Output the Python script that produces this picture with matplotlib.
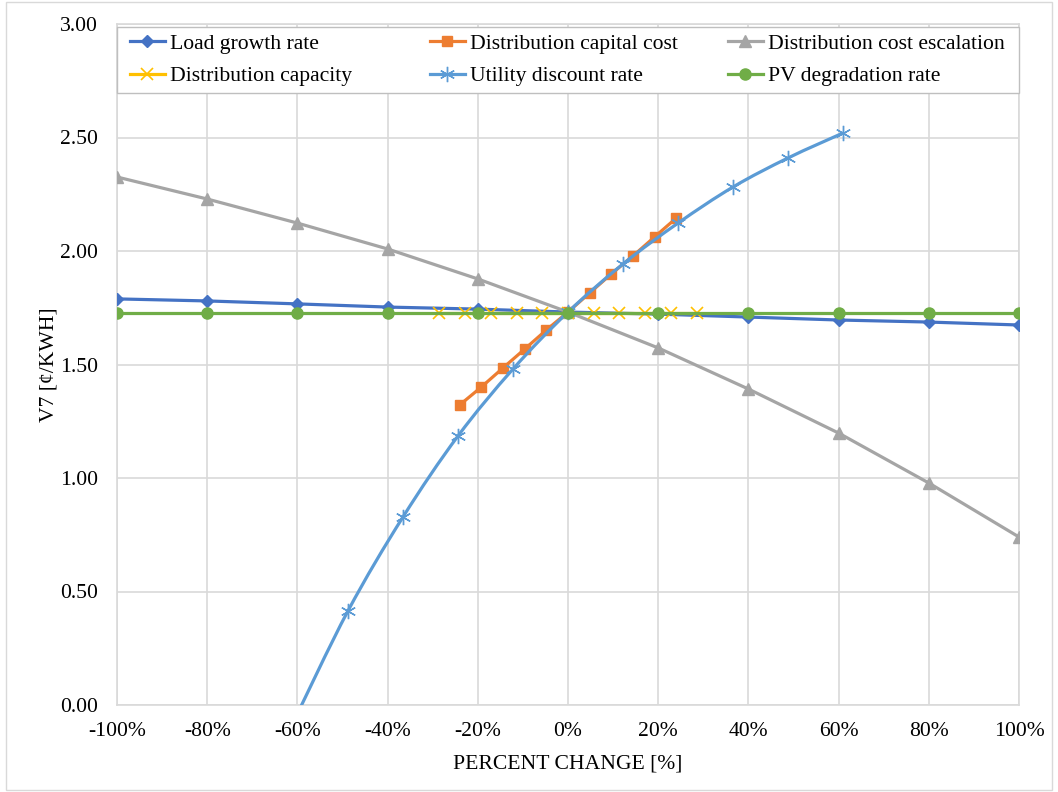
import numpy as np
import matplotlib.pyplot as plt
from matplotlib.path import Path
from matplotlib.patches import PathPatch, Rectangle
from matplotlib.lines import Line2D
from matplotlib.legend import Legend

plt.rcParams['font.family'] = ['Liberation Serif', 'DejaVu Serif']

# data (x in percent change, y in cents/kWh)
pct_20 = [-100, -80, -60, -40, -20, 0, 20, 40, 60, 80, 100]
load_growth = [1.789, 1.780, 1.767, 1.753, 1.744, 1.731, 1.722, 1.709, 1.696, 1.687, 1.674]
cost_escalation = [2.326, 2.229, 2.123, 2.009, 1.877, 1.731, 1.573, 1.392, 1.198, 0.978, 0.740]
pv_degradation = [1.728, 1.728, 1.728, 1.728, 1.728, 1.728, 1.728, 1.728, 1.728, 1.728, 1.728]

pct_capital = [-24, -19.2, -14.4, -9.6, -4.8, 0, 4.8, 9.6, 14.4, 19.2, 24]
capital_cost = [1.322, 1.401, 1.485, 1.568, 1.652, 1.731, 1.815, 1.899, 1.978, 2.062, 2.145]

pct_capacity = [-28.6, -22.9, -17.1, -11.4, -5.7, 0, 5.7, 11.4, 17.1, 22.9, 28.6]
capacity = [1.729, 1.729, 1.729, 1.729, 1.729, 1.729, 1.729, 1.729, 1.729, 1.729, 1.729]

pct_discount = [-61, -48.8, -36.6, -24.4, -12.2, 0, 12.2, 24.4, 36.6, 48.8, 61]
discount_rate = [-0.08, 0.414, 0.828, 1.185, 1.480, 1.731, 1.943, 2.123, 2.282, 2.410, 2.520]

xticks = [-100, -80, -60, -40, -20, 0, 20, 40, 60, 80, 100]
yticks = [0, 0.5, 1.0, 1.5, 2.0, 2.5, 3.0]

c_load = '#4472C4'
c_cap = '#ED7D31'
c_esc = '#A5A5A5'
c_capa = '#FFC000'
c_disc = '#5B9BD5'
c_pv = '#70AD47'

fs = 15.6


def smooth_path(xs, ys):
    # excel-like smoothed line as cubic bezier segments
    p = np.column_stack([xs, ys]).astype(float)
    ext = np.vstack([p[0], p, p[-1]])
    verts = [p[0]]
    codes = [Path.MOVETO]
    for i in range(len(p) - 1):
        a, b, c, d = ext[i], ext[i + 1], ext[i + 2], ext[i + 3]
        verts += [b + (c - a) / 6, c - (d - b) / 6, c]
        codes += [Path.CURVE4] * 3
    return Path(verts, codes)


fig = plt.figure(figsize=(10.58, 7.92), dpi=100)
ax = fig.add_axes([117 / 1058, 1 - 705 / 792, 902 / 1058, 681 / 792])

lw = 2.3
st_load = dict(color=c_load, lw=lw, marker='D', ms=6.5)
st_cap = dict(color=c_cap, lw=lw, marker='s', ms=7.5)
st_esc = dict(color=c_esc, lw=lw, marker='^', ms=8)
st_capa = dict(color=c_capa, lw=lw, marker='x', ms=9, mew=1.2)
st_disc = dict(color=c_disc, lw=lw, marker=(6, 2, 0), ms=11, mew=1.0)
st_pv = dict(color=c_pv, lw=lw, marker='o', ms=8)

ax.plot(pct_20, load_growth, zorder=3, **st_load)
ax.plot(pct_capital, capital_cost, zorder=4, **st_cap)
ax.plot(pct_20, cost_escalation, zorder=5, **st_esc)
ax.plot(pct_capacity, capacity, zorder=6, **st_capa)
ax.add_patch(PathPatch(smooth_path(pct_discount, discount_rate), fill=False,
                       edgecolor=c_disc, lw=lw, zorder=7))
ax.plot(pct_discount, discount_rate, ls='none', color=c_disc, marker=(6, 2, 0), ms=11, mew=1.0, zorder=7)
ax.plot(pct_20, pv_degradation, zorder=8, **st_pv)

ax.set_xlim(-100, 100)
ax.set_ylim(0, 3)
ax.set_xticks(xticks)
ax.set_xticklabels([f'{v}%' for v in xticks])
ax.set_yticks(yticks)
ax.set_yticklabels([f'{v:.2f}' for v in yticks])
ax.tick_params(length=0, labelsize=fs, colors='black')
ax.tick_params(axis='x', pad=12)
ax.tick_params(axis='y', pad=14)
ax.grid(True, color='#d9d9d9', lw=1.2)
ax.set_axisbelow(True)
for s in ax.spines.values():
    s.set_color('#d9d9d9')
    s.set_linewidth(1.2)

ax.set_xlabel('PERCENT CHANGE [%]', fontsize=fs, labelpad=10)
ax.set_ylabel('V7 [¢/KWH]', fontsize=fs, labelpad=1)

# legend: three equal-width columns inside a framed box at the top
columns = [
    [(st_load, 'Load growth rate'), (st_capa, 'Distribution capacity')],
    [(st_cap, 'Distribution capital cost'), (st_disc, 'Utility discount rate')],
    [(st_esc, 'Distribution cost escalation'), (st_pv, 'PV degradation rate')],
]
col_x = [130, 430, 728]
y_top = (705 - 27) / 681
y_bot = (705 - 93) / 681
ax.add_patch(Rectangle((0, y_bot), 1, y_top - y_bot, transform=ax.transAxes,
                       facecolor='white', edgecolor='#bfbfbf', lw=1.0, zorder=19,
                       clip_on=False))
for cx, entries in zip(col_x, columns):
    hs = [Line2D([], [], **st) for st, _ in entries]
    ls = [lab for _, lab in entries]
    lg = Legend(ax, hs, ls, loc='center left',
                bbox_to_anchor=((cx - 117) / 902, (705 - 60) / 681),
                frameon=False, fontsize=fs, handlelength=1.6, handletextpad=0.25,
                labelspacing=0.58, borderpad=0, borderaxespad=0)
    lg.set_zorder(20)
    ax.add_artist(lg)

fig.patches.append(Rectangle((6 / 1058, 0.002), 1 - 12 / 1058, 0.996, transform=fig.transFigure,
                             fill=False, edgecolor='#d9d9d9', lw=1.0))

fig.savefig('out.png', dpi=100)
